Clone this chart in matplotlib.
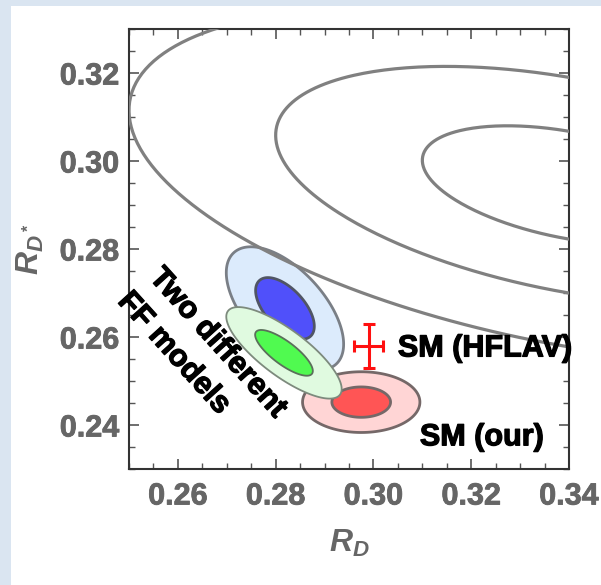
import numpy as np
import matplotlib
matplotlib.use("Agg")
import matplotlib.pyplot as plt
from matplotlib.patches import Polygon, Rectangle
import matplotlib.patheffects as pe

plt.rcParams['font.family'] = ['Liberation Sans', 'DejaVu Sans']
plt.rcParams['mathtext.fontset'] = 'custom'
plt.rcParams['mathtext.it'] = 'Liberation Sans:bold:italic'
plt.rcParams['mathtext.rm'] = 'Liberation Sans:bold'
plt.rcParams['mathtext.bf'] = 'Liberation Sans:bold'

# ---- data ----
# experimental average contours (1,2,3 sigma)
exp_center = (0.340, 0.2945)
exp_sigma = (0.030, 0.0135)
exp_rho = -0.42
exp_levels = [1, 2, 3]

# theory predictions (1 and 2 sigma)
blue_center = (0.2819, 0.2665)
blue_sigma = (0.0060, 0.0070)
blue_rho = -0.58

green_center = (0.2817, 0.2564)
green_sigma = (0.0059, 0.0052)
green_rho = -0.79

red_center = (0.2975, 0.2452)
red_sigma = (0.0060, 0.00345)
red_rho = 0.0

theory_levels = [2, 1]

# SM HFLAV point
hflav_x, hflav_y = 0.299, 0.258
hflav_xerr, hflav_yerr = 0.003, 0.005

xticks = [0.26, 0.28, 0.30, 0.32, 0.34]
yticks = [0.24, 0.26, 0.28, 0.30, 0.32]
xlim = (0.25, 0.34)
ylim = (0.23, 0.33)


def ellipse_pts(center, sigma, rho, k, n=400):
    t = np.linspace(0, 2 * np.pi, n)
    x = center[0] + k * sigma[0] * np.cos(t)
    y = center[1] + k * sigma[1] * (rho * np.cos(t) + np.sqrt(1 - rho ** 2) * np.sin(t))
    return np.column_stack([x, y])


fig = plt.figure(figsize=(6.01, 5.85), dpi=100)
fig.patch.set_facecolor('#dae5f1')
bg = fig.add_axes([11 / 601, 0, 1 - 11 / 601, 1 - 6 / 585], zorder=-5)
bg.set_axis_off()
bg.add_patch(Rectangle((0, 0), 1, 1, transform=bg.transAxes, facecolor='white',
                       edgecolor='none'))

ax = fig.add_axes([129 / 601, 1 - 469 / 585, 440 / 601, 440 / 585], zorder=1)
ax.set_facecolor('white')

# red (SM ours)
red_fill = {2: '#ffd5d5', 1: '#ff5555'}
for k in theory_levels:
    ax.add_patch(Polygon(ellipse_pts(red_center, red_sigma, red_rho, k),
                         closed=True, facecolor=red_fill[k], edgecolor='#756868',
                         lw=2.0, zorder=2))
# blue
blue_fill = {2: '#dcebfc', 1: '#5050fa'}
blue_edge = {2: '#7a7f86', 1: '#505565'}
for k in theory_levels:
    ax.add_patch(Polygon(ellipse_pts(blue_center, blue_sigma, blue_rho, k),
                         closed=True, facecolor=blue_fill[k], edgecolor=blue_edge[k],
                         lw=2.0, zorder=3))
# experimental contours
for k in exp_levels:
    p = ellipse_pts(exp_center, exp_sigma, exp_rho, k)
    ax.plot(p[:, 0], p[:, 1], color='#808080', lw=2.3, zorder=4)
# green
green_fill = {2: '#e0fae0', 1: '#50fa50'}
green_edge = {2: '#7d8a7d', 1: '#5a705a'}
for k in theory_levels:
    ax.add_patch(Polygon(ellipse_pts(green_center, green_sigma, green_rho, k),
                         closed=True, facecolor=green_fill[k], edgecolor=green_edge[k],
                         lw=1.3, zorder=5))

# HFLAV SM point
ax.errorbar([hflav_x], [hflav_y], xerr=[hflav_xerr], yerr=[hflav_yerr],
            fmt='none', ecolor='#ff1010', elinewidth=2.2, capsize=4.5,
            capthick=2.2, zorder=6)

heavy = [pe.withStroke(linewidth=0.9, foreground='black')]
txt_kw = dict(fontsize=22, fontweight='bold', color='black', zorder=7,
              path_effects=heavy)
ax.text(0.305, 0.2574, 'SM (HFLAV)', ha='left', va='center', **txt_kw)
ax.text(0.3095, 0.2372, 'SM (our)', ha='left', va='center', **txt_kw)
ax.text(0.2682, 0.2586, 'Two different', ha='center', va='center', rotation=-48,
        rotation_mode='anchor', **txt_kw)
ax.text(0.2592, 0.2563, 'FF models', ha='center', va='center', rotation=-48,
        rotation_mode='anchor', **txt_kw)

ax.set_xlim(*xlim)
ax.set_ylim(*ylim)
ax.set_xticks(xticks)
ax.set_yticks(yticks)
ax.set_xticklabels([f'{v:.2f}' for v in xticks])
ax.set_yticklabels([f'{v:.2f}' for v in yticks])
ax.set_xticks(np.arange(0.25, 0.3401, 0.005), minor=True)
ax.set_yticks(np.arange(0.23, 0.3301, 0.005), minor=True)
ax.tick_params(which='both', direction='in', top=True, right=True, color='#555555')
ax.tick_params(which='major', length=7, width=1.2, labelsize=22, labelcolor='#666666', pad=7)
ax.tick_params(axis='x', which='major', pad=9)
ax.tick_params(which='minor', length=4, width=1.0)
gray_heavy = [pe.withStroke(linewidth=0.6, foreground='#666666')]
for lab in ax.get_xticklabels() + ax.get_yticklabels():
    lab.set_fontweight('bold')
    lab.set_path_effects(gray_heavy)
for s in ax.spines.values():
    s.set_linewidth(1.5)
    s.set_color('#333333')

ax.set_xlabel(r'$R_D$', fontsize=23, color='#666666', labelpad=12)
ax.set_ylabel(r'$R_{D^*}$', fontsize=23, color='#666666', labelpad=10)

fig.savefig('out.png', dpi=100, facecolor=fig.get_facecolor())
